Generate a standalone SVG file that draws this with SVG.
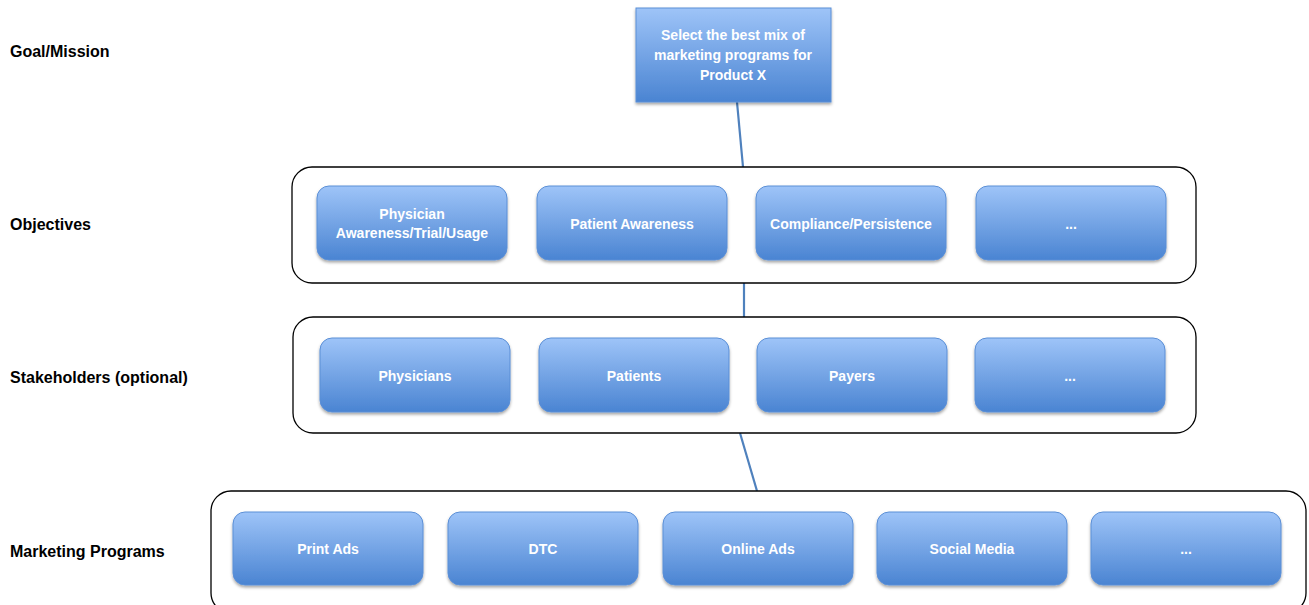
<svg xmlns="http://www.w3.org/2000/svg" width="1309" height="605" viewBox="0 0 1309 605">
<defs>
<linearGradient id="blue" x1="0" y1="0" x2="0" y2="1">
<stop offset="0" stop-color="#9EC4F8"/>
<stop offset="1" stop-color="#4A84D2"/>
</linearGradient>
<filter id="sh" x="-10%" y="-10%" width="120%" height="130%">
<feDropShadow dx="0" dy="2" stdDeviation="1.5" flood-color="#000" flood-opacity="0.35"/>
</filter>
<style>
.box{fill:url(#blue);stroke:#5B8FD6;stroke-width:1;filter:url(#sh)}
.cont{fill:#fff;stroke:#000;stroke-width:1.3}
.bt{font-family:"Liberation Sans",Arial,sans-serif;font-weight:bold;font-size:14px;fill:#fff;text-anchor:middle}
.lab{font-family:"Liberation Sans",Arial,sans-serif;font-weight:bold;font-size:16px;fill:#000}
.con{stroke:#4F81BD;stroke-width:2.2;fill:none}
</style>
</defs>
<rect width="1309" height="605" fill="#fff"/>
<g id="labels">
<text class="lab" x="10" y="57">Goal/Mission</text>
<text class="lab" x="10" y="230">Objectives</text>
<text class="lab" x="10" y="383">Stakeholders (optional)</text>
<text class="lab" x="10" y="557">Marketing Programs</text>
</g>
<g id="connectors">
<line class="con" x1="737" y1="102" x2="743" y2="167"/>
<line class="con" x1="744" y1="283" x2="744" y2="317"/>
<line class="con" x1="740" y1="433" x2="757" y2="491"/>
</g>
<g id="goal">
<rect class="box" x="636" y="8" width="195" height="94"/>
<text class="bt" x="733" y="40">Select the best mix of</text>
<text class="bt" x="733" y="60">marketing programs for</text>
<text class="bt" x="733" y="80">Product X</text>
</g>
<g id="objectives">
<rect class="cont" x="292" y="167" width="904" height="116" rx="20"/>
<g id="obj1"><rect class="box" x="317" y="186" width="190" height="74" rx="12"/><text class="bt" x="412" y="219">Physician</text><text class="bt" x="412" y="238">Awareness/Trial/Usage</text></g>
<g id="obj2"><rect class="box" x="537" y="186" width="190" height="74" rx="12"/><text class="bt" x="632" y="229">Patient Awareness</text></g>
<g id="obj3"><rect class="box" x="756" y="186" width="190" height="74" rx="12"/><text class="bt" x="851" y="229">Compliance/Persistence</text></g>
<g id="obj4"><rect class="box" x="976" y="186" width="190" height="74" rx="12"/><text class="bt" x="1071" y="229">...</text></g>
</g>
<g id="stakeholders">
<rect class="cont" x="293" y="317" width="903" height="116" rx="20"/>
<g id="st1"><rect class="box" x="320" y="338" width="190" height="74" rx="12"/><text class="bt" x="415" y="381">Physicians</text></g>
<g id="st2"><rect class="box" x="539" y="338" width="190" height="74" rx="12"/><text class="bt" x="634" y="381">Patients</text></g>
<g id="st3"><rect class="box" x="757" y="338" width="190" height="74" rx="12"/><text class="bt" x="852" y="381">Payers</text></g>
<g id="st4"><rect class="box" x="975" y="338" width="190" height="74" rx="12"/><text class="bt" x="1070" y="381">...</text></g>
</g>
<g id="programs">
<rect class="cont" x="211" y="491" width="1095" height="122" rx="20"/>
<g id="mp1"><rect class="box" x="233" y="512" width="190" height="73" rx="12"/><text class="bt" x="328" y="554">Print Ads</text></g>
<g id="mp2"><rect class="box" x="448" y="512" width="190" height="73" rx="12"/><text class="bt" x="543" y="554">DTC</text></g>
<g id="mp3"><rect class="box" x="663" y="512" width="190" height="73" rx="12"/><text class="bt" x="758" y="554">Online Ads</text></g>
<g id="mp4"><rect class="box" x="877" y="512" width="190" height="73" rx="12"/><text class="bt" x="972" y="554">Social Media</text></g>
<g id="mp5"><rect class="box" x="1091" y="512" width="190" height="73" rx="12"/><text class="bt" x="1186" y="554">...</text></g>
</g>
</svg>
